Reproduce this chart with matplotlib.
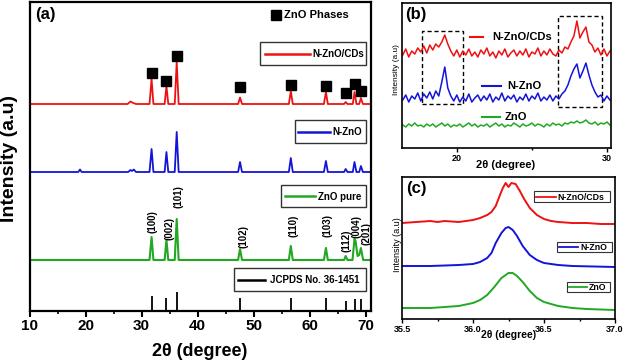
import numpy as np
import matplotlib
matplotlib.use("Agg")
import matplotlib.pyplot as plt
from matplotlib.lines import Line2D
from matplotlib.patches import Rectangle
from matplotlib.transforms import Affine2D
from matplotlib.ticker import MultipleLocator

plt.rcParams['font.family'] = ['Liberation Sans', 'DejaVu Sans']

RED, BLUE, GREEN = '#ee1111', '#1414d8', '#22a822'

# ---------------- Panel (a) data ----------------
a_red_x = [10, 27.5, 28.0, 28.5, 29.0, 31.4, 31.77, 32.1, 34.1, 34.42, 34.75, 35.9, 36.25, 36.6,
           47.2, 47.54, 47.9, 56.25, 56.6, 56.95, 62.5, 62.86, 63.2, 66.1, 66.38, 66.7,
           67.65, 67.96, 68.3, 68.8, 69.1, 69.45, 71]
a_red_y = [207, 207, 209.5, 208, 207, 207, 232, 207, 207, 225, 207, 207, 249, 207,
           207, 213.5, 207, 207, 220, 207, 207, 219, 207, 207, 209, 207,
           207, 219, 207, 207, 213, 207, 207]
a_blue_x = [10, 18.7, 19.0, 19.3, 27.6, 28.0, 28.3, 28.6, 29.0, 31.4, 31.77, 32.1, 34.1, 34.42, 34.75,
            35.9, 36.25, 36.6, 47.2, 47.54, 47.9, 56.25, 56.6, 56.95, 62.5, 62.86, 63.2,
            66.1, 66.38, 66.7, 67.65, 67.96, 68.3, 68.8, 69.1, 69.45, 71]
a_blue_y = [139, 139, 141.5, 139, 139, 141, 140, 141.5, 139, 139, 162, 139, 139, 159, 139,
            139, 179, 139, 139, 149, 139, 139, 153, 139, 139, 150, 139,
            139, 142, 139, 139, 149, 139, 139, 145, 139, 139]
a_green_x = [10, 31.4, 31.77, 32.1, 34.1, 34.42, 34.75, 35.9, 36.25, 36.6, 47.2, 47.54, 47.9,
             56.25, 56.6, 56.95, 62.5, 62.86, 63.2, 66.1, 66.38, 66.7, 67.6, 67.96, 68.15,
             68.5, 68.8, 69.1, 69.5, 71]
a_green_y = [51, 51, 74, 51, 51, 71, 51, 51, 92, 51, 51, 62, 51,
             51, 65, 51, 51, 63, 51, 51, 55, 51, 51, 72, 70,
             55, 56, 63, 51, 51]
jcpds_x = [31.77, 34.42, 36.25, 47.54, 56.60, 62.86, 66.38, 67.96, 69.10]
jcpds_h = [15, 13, 19, 13, 13, 13, 10, 12, 12]
phase_x = [31.77, 34.42, 36.25, 47.54, 56.60, 62.86, 66.38, 67.96, 69.10]
phase_y = [238, 230, 255, 224, 226, 225, 218, 227, 220]
hkl_labels = ['(100)', '(002)', '(101)', '(102)', '(110)', '(103)', '(112)', '(004)', '(201)']
hkl_x = [32.0, 34.9, 36.6, 48.2, 57.1, 63.2, 66.6, 68.4, 70.1]
hkl_y = [78, 71, 103, 63, 74, 74, 59, 73, 66]

# ---------------- Panel (b) data ----------------
b_x = np.round(np.arange(16.4, 30.21, 0.2), 1)
b_red = [93, 99, 91, 97, 94, 100, 96, 102, 95, 103,
         98, 104, 101, 106, 113, 104, 97, 92, 98, 91,
         97, 93, 99, 92, 96, 91, 98, 94, 100, 92,
         96, 90, 97, 93, 99, 91, 95, 98, 92, 97,
         93, 99, 91, 96, 94, 100, 92, 97, 93, 99,
         94, 92, 98, 95, 101, 99, 106, 112, 127, 110,
         116, 121, 106, 103, 96, 100, 93, 99, 92, 97]
b_blue = [48, 53, 46, 52, 49, 55, 47, 54, 50, 56,
          49, 57, 52, 66, 81, 60, 52, 47, 53, 46,
          51, 47, 54, 46, 50, 53, 47, 52, 48, 54,
          46, 51, 48, 55, 47, 52, 49, 53, 46, 51,
          48, 54, 47, 52, 49, 55, 47, 51, 48, 53,
          47, 52, 49, 54, 57, 63, 72, 79, 84, 70,
          77, 85, 73, 63, 56, 51, 53, 47, 52, 48]
b_green = [23, 21, 24, 22, 25, 22, 23, 21, 24, 22,
           24, 21, 23, 25, 22, 24, 21, 23, 22, 24,
           21, 23, 25, 22, 24, 21, 23, 22, 24, 21,
           23, 25, 22, 24, 21, 23, 22, 25, 23, 21,
           24, 22, 23, 25, 22, 24, 23, 21, 24, 22,
           25, 23, 24, 22, 25, 24, 26, 25, 27, 25,
           26, 28, 25, 24, 26, 23, 25, 24, 26, 23]

# ---------------- Panel (c) data ----------------
c_red_x = [35.5, 35.6, 35.7, 35.75, 35.8, 35.9, 36.0, 36.05, 36.1, 36.13, 36.16, 36.19, 36.21,
           36.23, 36.25, 36.27, 36.3, 36.33, 36.36, 36.4, 36.45, 36.5, 36.55, 36.6, 36.7,
           36.8, 36.9, 37.0]
c_red_y = [96, 97, 98, 97, 98, 97, 99, 101, 104, 107, 113, 124, 131,
           136, 132, 136, 135, 128, 120, 111, 104, 100, 98, 97, 96,
           96, 95, 95]
c_blue_x = [35.5, 35.7, 35.9, 36.0, 36.05, 36.1, 36.13, 36.16, 36.2, 36.23, 36.25, 36.28, 36.31,
            36.35, 36.4, 36.45, 36.5, 36.6, 36.7, 37.0]
c_blue_y = [53, 53, 54, 55, 57, 61, 66, 76, 86, 91, 92, 89, 83,
            73, 64, 59, 56, 54, 53, 52]
c_green_x = [35.5, 35.7, 35.8, 35.9, 36.0, 36.05, 36.1, 36.15, 36.2, 36.25, 36.28, 36.31, 36.35,
             36.4, 36.45, 36.5, 36.6, 36.7, 36.8, 37.0]
c_green_y = [11, 11, 12, 13, 16, 19, 24, 32, 41, 46, 46, 43, 37,
             28, 21, 17, 13, 11, 10, 9]

W, H = 625, 363
fig = plt.figure(figsize=(W / 100, H / 100), dpi=100)
PX = Affine2D().scale(1 / W, -1 / H).translate(0, 1) + fig.transFigure


def axes_px(x0, y0, x1, y1):
    return fig.add_axes([x0 / W, 1 - y1 / H, (x1 - x0) / W, (y1 - y0) / H])


def ftext(x, y, s, **kw):
    fig.text(x, y, s, transform=PX, **kw)


def fline(x0, x1, y, color, lw=1.6):
    fig.add_artist(Line2D([x0, x1], [y, y], transform=PX, color=color, lw=lw))


def fbox(x0, y0, x1, y1, lw=1.0):
    fig.add_artist(Rectangle((x0, y0), x1 - x0, y1 - y0, transform=PX, fill=False,
                             edgecolor='#333333', lw=lw))


# ---------- (a) ----------
ax = axes_px(29.5, 2, 371, 311)
ax.plot(a_red_x, a_red_y, color=RED, lw=1.3)
ax.plot(a_blue_x, a_blue_y, color=BLUE, lw=1.3)
ax.plot(a_green_x, a_green_y, color=GREEN, lw=1.5)
ax.vlines(jcpds_x, 0, jcpds_h, color='black', lw=1.3)
ax.plot(phase_x, phase_y, 's', color='black', ms=6.5, ls='none')
for lab, x, y in zip(hkl_labels, hkl_x, hkl_y):
    ax.text(x, y, lab, rotation=90, ha='center', va='bottom', fontsize=7, fontweight='bold')
ax.set_xlim(10, 70.9)
ax.set_ylim(0, 309)
ax.set_yticks([])
ax.xaxis.set_major_locator(MultipleLocator(10))
ax.xaxis.set_minor_locator(MultipleLocator(5))
ax.tick_params(axis='x', which='major', direction='out', length=4, width=1.5, pad=2,
               labelsize=11)
ax.tick_params(axis='x', which='minor', direction='out', length=2, width=1.2)
for lab in ax.get_xticklabels():
    lab.set_fontweight('bold')
for sp in ax.spines.values():
    sp.set_linewidth(1.6)
ftext(200, 352, '2θ (degree)', ha='center', va='center', fontsize=13, fontweight='bold')
ftext(10, 158, 'Intensity (a.u)', ha='center', va='center', rotation=90, fontsize=14,
      fontweight='bold')
ftext(35, 15, '(a)', ha='left', va='center', fontsize=12, fontweight='bold')
# ZnO phases legend
fig.add_artist(Line2D([276], [15], transform=PX, marker='s', color='black', ms=7, ls='none'))
ftext(284, 15.5, 'ZnO Phases', ha='left', va='center', fontsize=8, fontweight='bold')
# boxed legends
fbox(260, 42, 366, 65); fline(265, 310, 53.5, RED, 1.8)
ftext(312, 54, 'N-ZnO/CDs', ha='left', va='center', fontsize=7, fontweight='bold')
fbox(295, 120, 366, 143); fline(298, 330, 131.5, BLUE, 1.8)
ftext(332, 132, 'N-ZnO', ha='left', va='center', fontsize=7, fontweight='bold')
fbox(281, 185, 366, 207); fline(285, 315, 196, GREEN, 1.8)
ftext(318, 196.5, 'ZnO pure', ha='left', va='center', fontsize=7, fontweight='bold')
fbox(234, 268, 366, 291); fline(238, 265, 279.5, 'black', 1.8)
ftext(270, 280, 'JCPDS No. 36-1451', ha='left', va='center', fontsize=7, fontweight='bold')

# ---------- (b) ----------
bx = axes_px(402, 3, 611, 148)
bx.plot(b_x, b_red, color=RED, lw=1.1)
bx.plot(b_x, b_blue, color=BLUE, lw=1.1)
bx.plot(b_x, b_green, color=GREEN, lw=1.1)
bx.add_patch(Rectangle((17.65, 44), 20.4 - 17.65, 117 - 44, fill=False, ls=(0, (3, 2)),
                       lw=1.0, edgecolor='black'))
bx.add_patch(Rectangle((26.73, 41), 29.67 - 26.73, 132 - 41, fill=False, ls=(0, (3, 2)),
                       lw=1.0, edgecolor='black'))
bx.set_xlim(16.35, 30.27)
bx.set_ylim(0, 145)
bx.set_yticks([])
bx.set_xticks([20, 30])
bx.xaxis.set_minor_locator(MultipleLocator(5))
bx.tick_params(axis='x', which='major', direction='out', length=3, width=1, pad=1.5,
               labelsize=6.5)
bx.tick_params(axis='x', which='minor', direction='out', length=1.5, width=1)
for lab in bx.get_xticklabels():
    lab.set_fontweight('bold')
for sp in bx.spines.values():
    sp.set_linewidth(1.2)
ftext(506, 165, '2θ (degree)', ha='center', va='center', fontsize=8, fontweight='bold')
ftext(397, 70, 'Intensity (a.u)', ha='center', va='center', rotation=90, fontsize=6)
ftext(405, 14, '(b)', ha='left', va='center', fontsize=12, fontweight='bold')
fline(470, 483, 37, RED, 1.5)
ftext(492, 37, 'N-ZnO/CDs', ha='left', va='center', fontsize=8, fontweight='bold')
fline(482, 501, 86, BLUE, 1.5)
ftext(507, 86, 'N-ZnO', ha='left', va='center', fontsize=8, fontweight='bold')
fline(482, 500, 117, GREEN, 1.5)
ftext(505, 117, 'ZnO', ha='left', va='center', fontsize=8, fontweight='bold')

# ---------- (c) ----------
cx = axes_px(402, 177, 615, 319)
cx.plot(c_red_x, c_red_y, color=RED, lw=1.4)
cx.plot(c_blue_x, c_blue_y, color=BLUE, lw=1.4)
cx.plot(c_green_x, c_green_y, color=GREEN, lw=1.4)
cx.set_xlim(35.5, 37.0)
cx.set_ylim(0, 142)
cx.set_yticks([])
cx.set_xticks([35.5, 36.0, 36.5, 37.0])
cx.set_xticklabels(['35.5', '36.0', '36.5', '37.0'])
cx.xaxis.set_minor_locator(MultipleLocator(0.25))
cx.tick_params(axis='x', which='major', direction='out', length=3, width=1, pad=1.5,
               labelsize=6.5)
cx.tick_params(axis='x', which='minor', direction='out', length=1.5, width=1)
for lab in cx.get_xticklabels():
    lab.set_fontweight('bold')
for sp in cx.spines.values():
    sp.set_linewidth(1.2)
ftext(509, 335, '2θ (degree)', ha='center', va='center', fontsize=7.5, fontweight='bold')
ftext(397, 245, 'Intensity (a.u)', ha='center', va='center', rotation=90, fontsize=6.5)
ftext(406, 188, '(c)', ha='left', va='center', fontsize=12, fontweight='bold')
fbox(534, 191, 610, 202, 0.8); fline(536, 556, 196.5, RED, 1.3)
ftext(557, 197, 'N-ZnO/CDs', ha='left', va='center', fontsize=6.3, fontweight='bold')
fbox(557, 242, 612, 252, 0.8); fline(559, 578, 247, BLUE, 1.3)
ftext(580, 247.5, 'N-ZnO', ha='left', va='center', fontsize=6.3, fontweight='bold')
fbox(567, 282, 610, 292, 0.8); fline(569, 587, 287, GREEN, 1.3)
ftext(589, 287.5, 'ZnO', ha='left', va='center', fontsize=6.3, fontweight='bold')

fig.savefig('out.png', dpi=100)
